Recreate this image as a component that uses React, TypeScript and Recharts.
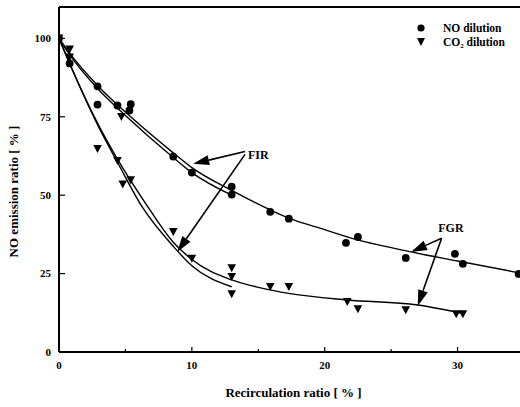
import React from 'react';
import {
    ComposedChart,
    Line,
    Scatter,
    XAxis,
    YAxis,
    ReferenceLine,
    ReferenceDot,
    Legend,
} from 'recharts';

const noDilution = [
    { x: 0, y: 100 }, { x: 0.8, y: 92 }, { x: 2.9, y: 84.7 }, { x: 2.9, y: 78.9 },
    { x: 4.4, y: 78.6 }, { x: 5.4, y: 79 }, { x: 5.3, y: 77 }, { x: 8.6, y: 62.3 },
    { x: 10, y: 57.2 }, { x: 13, y: 52.7 }, { x: 13, y: 50.2 }, { x: 15.9, y: 44.7 },
    { x: 17.3, y: 42.5 }, { x: 21.6, y: 34.8 }, { x: 22.5, y: 36.7 }, { x: 26.1, y: 30 },
    { x: 29.8, y: 31.3 }, { x: 30.4, y: 28.1 }, { x: 34.6, y: 24.9 },
];

const co2Dilution = [
    { x: 0, y: 100 }, { x: 0.8, y: 96.5 }, { x: 0.8, y: 94 }, { x: 2.9, y: 64.8 },
    { x: 4.4, y: 61 }, { x: 4.7, y: 75 }, { x: 4.8, y: 53.5 }, { x: 5.4, y: 54.8 },
    { x: 8.6, y: 38.3 }, { x: 10, y: 29.8 }, { x: 13, y: 26.8 }, { x: 13, y: 24 },
    { x: 13, y: 18.5 }, { x: 15.9, y: 20.8 }, { x: 17.3, y: 20.8 }, { x: 21.7, y: 16 },
    { x: 22.5, y: 13.7 }, { x: 26.1, y: 13.4 }, { x: 29.9, y: 12.1 }, { x: 30.4, y: 12.1 },
];

// fitted curves
const noFgrCurve = [
    { x: 0, y: 100 }, { x: 0.8, y: 95.3 }, { x: 2.9, y: 85 }, { x: 5, y: 76.5 },
    { x: 8.6, y: 63.5 }, { x: 10, y: 58.8 }, { x: 13, y: 51.5 }, { x: 15.9, y: 45.3 },
    { x: 17.4, y: 42.5 }, { x: 20, y: 39 }, { x: 22, y: 36.3 }, { x: 26.4, y: 32 },
    { x: 30, y: 29 }, { x: 34.7, y: 25.2 },
];
const noFirCurve = [
    { x: 0, y: 100 }, { x: 0.8, y: 94.8 }, { x: 2.9, y: 84 }, { x: 5, y: 75.4 },
    { x: 8.6, y: 62 }, { x: 10, y: 57.2 }, { x: 13, y: 50 },
];
const co2FgrCurve = [
    { x: 0, y: 100 }, { x: 0.8, y: 92 }, { x: 2.9, y: 73 }, { x: 4.4, y: 61.5 },
    { x: 6.5, y: 47.5 }, { x: 8.6, y: 35 }, { x: 10, y: 29.5 }, { x: 13, y: 23 },
    { x: 15, y: 20.6 }, { x: 17.4, y: 18.6 }, { x: 21.7, y: 16.6 }, { x: 27, y: 15 },
    { x: 30.4, y: 12.3 },
];
const co2FirCurve = [
    { x: 0, y: 100 }, { x: 0.8, y: 92 }, { x: 2.9, y: 72.5 }, { x: 4.4, y: 60.5 },
    { x: 6.3, y: 46 }, { x: 8.6, y: 33.7 }, { x: 10, y: 27.5 }, { x: 13, y: 20.8 },
];

const xTicks = [0, 5, 10, 15, 20, 25, 30];
const yTicks = [0, 25, 50, 75, 100];

// annotation arrows (data coords)
const arrows = [
    { from: { x: 14.0, y: 63.9 }, to: { x: 10.1, y: 60.0 } },
    { from: { x: 14.0, y: 63.0 }, to: { x: 8.9, y: 31.9 } },
    { from: { x: 28.8, y: 36.3 }, to: { x: 26.5, y: 31.9 } },
    { from: { x: 28.8, y: 36.3 }, to: { x: 27.0, y: 14.7 } },
];
const notes = [
    { x: 15.0, y: 62.8, text: 'FIR' },
    { x: 29.5, y: 39.6, text: 'FGR' },
];

const serif = '"Liberation Serif", "DejaVu Serif", serif';
const bold = { fontFamily: serif, fontWeight: 700 } as const;

const YTick = (props: any) => {
    const { x, y, payload } = props;
    return (
        <g>
            {payload.value > 0 && (
                <line x1={x + 8} x2={x + 14} y1={y} y2={y} stroke="#000" strokeWidth={1.2} />
            )}
            <text x={x} y={y} dy="0.35em" textAnchor="end" style={{ ...bold, fontSize: 11 }} fill="#000">
                {payload.value}
            </text>
        </g>
    );
};

const XTick = (props: any) => {
    const { x, y, payload } = props;
    const major = payload.value % 10 === 0;
    return (
        <g>
            {payload.value > 0 && (
                <line x1={x} x2={x} y1={y - 9} y2={y - 9 - (major ? 5 : 3)} stroke="#000" strokeWidth={1.2} />
            )}
            {major && (
                <text x={x} y={y} dy="0.75em" textAnchor="middle" style={{ ...bold, fontSize: 11 }} fill="#000">
                    {payload.value}
                </text>
            )}
        </g>
    );
};

const Circle = (p: any) => <circle cx={p.cx} cy={p.cy} r={3.9} fill="#000" />;
const DownTriangle = (p: any) => (
    <polygon
        points={`${p.cx - 4.3},${p.cy - 3.8} ${p.cx + 4.3},${p.cy - 3.8} ${p.cx},${p.cy + 4.3}`}
        fill="#000"
    />
);

const Arrow = (props: any) => {
    const { x1, y1, x2, y2 } = props;
    const a = Math.atan2(y2 - y1, x2 - x1);
    const len = 16;
    const half = 5;
    const bx = x2 - len * Math.cos(a);
    const by = y2 - len * Math.sin(a);
    const px = -Math.sin(a) * half;
    const py = Math.cos(a) * half;
    return (
        <g>
            <line x1={x1} y1={y1} x2={bx} y2={by} stroke="#000" strokeWidth={1.6} />
            <polygon points={`${x2},${y2} ${bx + px},${by + py} ${bx - px},${by - py}`} fill="#000" />
        </g>
    );
};

const Note = (text: string) => (p: any) => (
    <text x={p.cx} y={p.cy} textAnchor="middle" dominantBaseline="central" style={{ ...bold, fontSize: 12 }} fill="#000">
        {text}
    </text>
);

const LegendBox = (props: any) => {
    const items = (props.payload || [])
        .filter((p: any) => p.type !== 'none')
        .sort((a: any, b: any) => (a.type === 'circle' ? -1 : 0) - (b.type === 'circle' ? -1 : 0));
    return (
        <div style={{ ...bold, fontSize: 11.5, color: '#000' }}>
            {items.map((p: any) => (
                <div key={p.value} style={{ display: 'flex', alignItems: 'center', height: 14 }}>
                    <svg width={14} height={10}>
                        {p.type === 'circle' ? (
                            <circle cx={7} cy={5} r={3.6} fill="#000" />
                        ) : (
                            <polygon points="3,1 11,1 7,9" fill="#000" />
                        )}
                    </svg>
                    <span style={{ marginLeft: 15, lineHeight: '14px' }}>{p.value}</span>
                </div>
            ))}
        </div>
    );
};

const xTitle = (p: any) => {
    const vb = p.viewBox;
    return (
        <text x={vb.x + vb.width / 2 + 4} y={vb.y + 40} textAnchor="middle" dominantBaseline="central" style={{ ...bold, fontSize: 13 }} fill="#000">
            Recirculation ratio [ % ]
        </text>
    );
};

const yTitle = (p: any) => {
    const vb = p.viewBox;
    const cx = vb.x + 13;
    const cy = vb.y + vb.height / 2 + 12;
    return (
        <text x={cx} y={cy} transform={`rotate(-90, ${cx}, ${cy})`} textAnchor="middle" dominantBaseline="central" style={{ ...bold, fontSize: 13 }} fill="#000">
            NO emission ratio [ % ]
        </text>
    );
};

export default function App() {
    return (
        <div style={{ position: 'absolute', left: 0, top: 0, background: '#fff' }}>
            <ComposedChart width={520} height={407} margin={{ top: 7, right: 0, bottom: 0, left: 0 }}>
                <XAxis
                    type="number"
                    dataKey="x"
                    domain={[0, 34.7]}
                    ticks={xTicks}
                    interval={0}
                    height={55}
                    tickSize={0}
                    tickMargin={9}
                    tick={XTick}
                    axisLine={{ stroke: '#000', strokeWidth: 2 }}
                    label={{ content: xTitle }}
                    allowDataOverflow
                />
                <YAxis
                    type="number"
                    dataKey="y"
                    domain={[0, 110]}
                    ticks={yTicks}
                    interval={0}
                    width={59}
                    tickSize={0}
                    tickMargin={8}
                    tick={YTick}
                    axisLine={{ stroke: '#000', strokeWidth: 2 }}
                    label={{ content: yTitle }}
                />
                <ReferenceLine y={110} stroke="#000" strokeWidth={2} />
                <Line data={noFgrCurve} dataKey="y" type="monotone" stroke="#000" strokeWidth={1.4} dot={false} legendType="none" isAnimationActive={false} />
                <Line data={noFirCurve} dataKey="y" type="monotone" stroke="#000" strokeWidth={1.4} dot={false} legendType="none" isAnimationActive={false} />
                <Line data={co2FgrCurve} dataKey="y" type="monotone" stroke="#000" strokeWidth={1.4} dot={false} legendType="none" isAnimationActive={false} />
                <Line data={co2FirCurve} dataKey="y" type="monotone" stroke="#000" strokeWidth={1.4} dot={false} legendType="none" isAnimationActive={false} />
                <Scatter name="NO dilution" data={noDilution} shape={Circle} legendType="circle" isAnimationActive={false} />
                <Scatter name="CO₂ dilution" data={co2Dilution} shape={DownTriangle} legendType="triangle" isAnimationActive={false} />
                {arrows.map((a, i) => (
                    <ReferenceLine key={`arrow-${i}`} segment={[a.from, a.to]} shape={Arrow} />
                ))}
                {notes.map((n) => (
                    <ReferenceDot key={n.text} x={n.x} y={n.y} shape={Note(n.text)} />
                ))}
                <Legend
                    layout="horizontal"
                    verticalAlign="middle"
                    align="center"
                    content={LegendBox}
                    wrapperStyle={{ left: 414, top: 21, width: 'auto' }}
                />
            </ComposedChart>
        </div>
    );
}
